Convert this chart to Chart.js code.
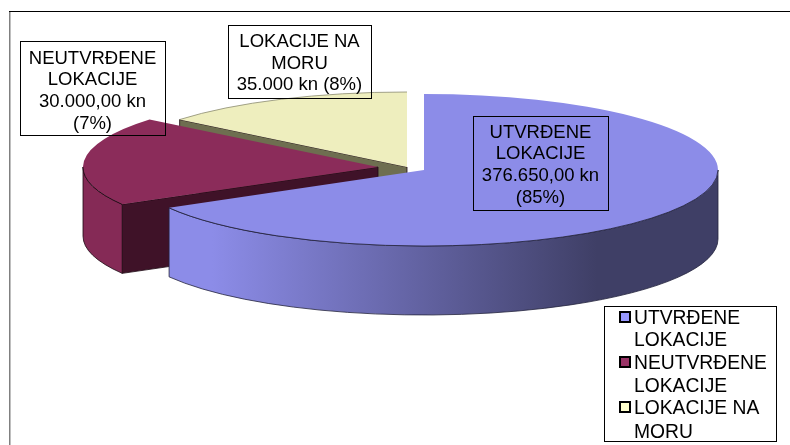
<!DOCTYPE html>
<html>
<head>
<meta charset="utf-8">
<style>
  html, body { margin: 0; background: #fff; }
  canvas { display: block; }
</style>
<script src="https://cdn.jsdelivr.net/npm/chart.js@4"></script>
</head>
<body>
<canvas id="pie" width="790" height="445"></canvas>
<script>
const categories = ['UTVRĐENE LOKACIJE', 'NEUTVRĐENE LOKACIJE', 'LOKACIJE NA MORU'];
// shares as measured off the drawn slices (the original 3D view does not follow the kn amounts)
const sliceShares = [66.7, 19.2, 14.1];
const sliceColors = ['#8c8ce8', '#8b2c5a', '#eeeebe'];
const legendColors = ['#9999ff', '#993366', '#ffffcc'];
const labelLines = [
  ['UTVRĐENE', 'LOKACIJE', '376.650,00 kn', '(85%)'],
  ['NEUTVRĐENE', 'LOKACIJE', '30.000,00 kn', '(7%)'],
  ['LOKACIJE NA', 'MORU', '35.000 kn (8%)']
];
const legendLines = [['UTVRĐENE', 'LOKACIJE'], ['NEUTVRĐENE', 'LOKACIJE'], ['LOKACIJE NA', 'MORU']];

// where each slice sits once tilted and pulled apart
const tilt = [
  { cx: 424, cy: 170, rx: 294, ry: 76 },
  { cx: 378, cy: 167, rx: 295, ry: 75 },
  { cx: 407, cy: 167, rx: 229 / 0.78, ry: 75 }
];
const depth = 69;
const labelBoxes = [
  { x: 473, y: 116, w: 135, h: 94, ys: [133, 154, 176, 198] },
  { x: 20, y: 41, w: 145, h: 94, ys: [59, 80, 102, 124] },
  { x: 228, y: 25, w: 143, h: 73, ys: [42, 64, 85] }
];
const legendYs = [[319, 341], [364, 387], [409, 433]];

function rimPoint(g, a) {
  return [g.cx + g.rx * Math.cos(a), g.cy + g.ry * Math.sin(a)];
}

function rimPath(ctx, g, a0, a1) {
  ctx.beginPath();
  ctx.ellipse(g.cx, g.cy, g.rx, g.ry, 0, a0, a1);
  ctx.ellipse(g.cx, g.cy + depth, g.rx, g.ry, 0, a1, a0, true);
  ctx.closePath();
}

function radialFace(ctx, g, a, color) {
  const p = rimPoint(g, a);
  ctx.beginPath();
  ctx.moveTo(g.cx, g.cy);
  ctx.lineTo(p[0], p[1]);
  ctx.lineTo(p[0], p[1] + depth);
  ctx.lineTo(g.cx, g.cy + depth);
  ctx.closePath();
  ctx.fillStyle = color;
  ctx.fill();
  ctx.strokeStyle = '#1c0812';
  ctx.lineWidth = 0.8;
  ctx.stroke();
}

function topFace(ctx, arc, g) {
  ctx.save();
  ctx.translate(g.cx, g.cy);
  ctx.scale(g.rx / arc.outerRadius, g.ry / arc.outerRadius);
  ctx.translate(-arc.x, -arc.y);
  arc.draw(ctx);
  ctx.restore();
}

const tiltedPie = {
  id: 'tiltedPie',
  beforeDraw(chart) {
    const ctx = chart.ctx;
    ctx.save();
    ctx.fillStyle = '#808080';
    ctx.fillRect(9, 11, 1.5, 434);
    ctx.fillStyle = '#000';
    ctx.fillRect(9, 11, 781, 1);
    ctx.restore();
  },
  beforeDatasetDraw(chart) {
    const ctx = chart.ctx;
    const arcs = chart.getDatasetMeta(0).data;
    const leftEnd = Math.PI;

    // back to front: sea, unsettled, settled
    ctx.save();
    radialFace(ctx, tilt[2], arcs[2].startAngle, '#6e6e50');
    topFace(ctx, arcs[2], tilt[2]);
    ctx.beginPath();
    ctx.ellipse(tilt[2].cx, tilt[2].cy, tilt[2].rx, tilt[2].ry, 0, arcs[2].startAngle, arcs[2].endAngle);
    ctx.strokeStyle = '#8a8a70';
    ctx.lineWidth = 0.8;
    ctx.stroke();

    radialFace(ctx, tilt[1], arcs[1].startAngle, '#3f1228');
    rimPath(ctx, tilt[1], arcs[1].startAngle, leftEnd);
    ctx.fillStyle = '#852a56';
    ctx.fill();
    ctx.strokeStyle = '#1c0812';
    ctx.stroke();
    topFace(ctx, arcs[1], tilt[1]);
    ctx.beginPath();
    ctx.ellipse(tilt[1].cx, tilt[1].cy, tilt[1].rx, tilt[1].ry, 0, arcs[1].startAngle, leftEnd);
    ctx.stroke();

    const g = tilt[0];
    const shade = ctx.createLinearGradient(168, 0, 718, 0);
    shade.addColorStop(0, '#8c8ce8');
    shade.addColorStop(0.08, '#8c8ce8');
    shade.addColorStop(0.78, '#3f3f66');
    shade.addColorStop(1, '#3f3f66');
    rimPath(ctx, g, 0, arcs[0].endAngle);
    ctx.fillStyle = shade;
    ctx.fill();
    ctx.strokeStyle = '#23233c';
    ctx.stroke();
    topFace(ctx, arcs[0], g);
    ctx.beginPath();
    ctx.ellipse(g.cx, g.cy, g.rx, g.ry, 0, 0, arcs[0].endAngle);
    ctx.stroke();
    ctx.restore();
    return false;
  },
  afterDatasetsDraw(chart) {
    const ctx = chart.ctx;
    ctx.save();
    ctx.font = '18.5px "Liberation Sans"';
    ctx.textAlign = 'center';
    ctx.textBaseline = 'middle';
    ctx.fillStyle = '#000';
    ctx.strokeStyle = '#000';
    ctx.lineWidth = 1;
    labelBoxes.forEach((b, i) => {
      ctx.strokeRect(b.x + 0.5, b.y + 0.5, b.w, b.h);
      labelLines[i].forEach((line, j) => ctx.fillText(line, b.x + b.w / 2, b.ys[j]));
    });

    // legend
    ctx.fillStyle = '#fff';
    ctx.fillRect(604, 306, 172, 135);
    ctx.strokeRect(604.5, 306.5, 172, 135);
    ctx.font = '19.3px "Liberation Sans"';
    ctx.textAlign = 'left';
    categories.forEach((c, i) => {
      const sy = legendYs[i][0] - 7;
      ctx.fillStyle = legendColors[i];
      ctx.fillRect(620, sy, 10, 10);
      ctx.lineWidth = 2;
      ctx.strokeRect(620, sy, 10, 10);
      ctx.fillStyle = '#000';
      legendLines[i].forEach((line, j) => ctx.fillText(line, 634, legendYs[i][j]));
    });
    ctx.restore();
  }
};

new Chart(document.getElementById('pie'), {
  type: 'pie',
  data: {
    labels: categories,
    datasets: [{ data: sliceShares, backgroundColor: sliceColors, borderWidth: 0 }]
  },
  options: {
    responsive: false,
    animation: false,
    plugins: { legend: { display: false }, tooltip: { enabled: false } }
  },
  plugins: [tiltedPie]
});
</script>
</body>
</html>
